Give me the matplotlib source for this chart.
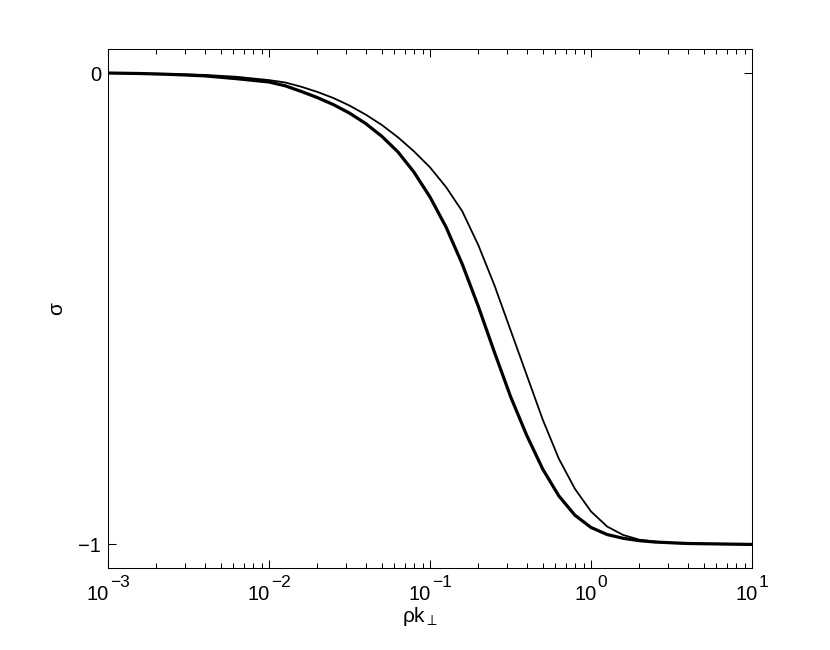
import numpy as np
import matplotlib
matplotlib.use("Agg")
import matplotlib.pyplot as plt
from matplotlib.ticker import LogLocator, FixedLocator, NullFormatter

plt.rcParams['font.family'] = ['Liberation Sans', 'DejaVu Sans']
plt.rcParams['mathtext.fontset'] = 'custom'
plt.rcParams['mathtext.rm'] = 'Liberation Sans'
plt.rcParams['mathtext.it'] = 'Liberation Sans'
plt.rcParams['mathtext.default'] = 'regular'

# log10(rho k_perp) sample positions and sigma values
thick_logk = [-3.0, -2.8, -2.6, -2.4, -2.2, -2.0, -1.9, -1.8, -1.7, -1.6, -1.5, -1.4,
              -1.3, -1.2, -1.1, -1.0, -0.9, -0.8, -0.7, -0.6, -0.5, -0.4, -0.3, -0.2,
              -0.1, 0.0, 0.1, 0.2, 0.3, 0.4, 0.6, 1.0]
thick_sigma = [0.000, -0.001, -0.003, -0.006, -0.012, -0.019, -0.027, -0.039, -0.052,
               -0.067, -0.085, -0.107, -0.134, -0.167, -0.210, -0.263, -0.327, -0.405,
               -0.495, -0.592, -0.686, -0.768, -0.840, -0.897, -0.938, -0.964, -0.979,
               -0.987, -0.992, -0.995, -0.998, -1.000]

thin_logk = [-3.0, -2.8, -2.6, -2.4, -2.2, -2.0, -1.9, -1.8, -1.7, -1.6, -1.5, -1.4,
             -1.3, -1.2, -1.1, -1.0, -0.9, -0.8, -0.7, -0.6, -0.5, -0.4, -0.3, -0.2,
             -0.1, 0.0, 0.1, 0.2, 0.3, 0.4, 0.5, 0.7, 1.0]
thin_sigma = [0.000, -0.001, -0.002, -0.004, -0.008, -0.015, -0.020, -0.029, -0.040,
              -0.053, -0.069, -0.088, -0.110, -0.136, -0.166, -0.200, -0.242, -0.293,
              -0.365, -0.450, -0.545, -0.640, -0.735, -0.818, -0.882, -0.930, -0.962,
              -0.980, -0.990, -0.994, -0.997, -0.999, -1.000]

xtick_exponents = [-3, -2, -1, 0, 1]
ytick_vals = [-1, 0]
ytick_labels = ['\u22121', '0']

fig = plt.figure(figsize=(8.3, 6.5), dpi=100)
ax = fig.add_axes([108/830, 82/650, 644/830, 519/650])

ax.plot(10**np.array(thick_logk), thick_sigma, color='black', lw=2.3,
        solid_joinstyle='round')
ax.plot(10**np.array(thin_logk), thin_sigma, color='black', lw=1.3,
        solid_joinstyle='round')

ax.set_xscale('log')
ax.set_xlim(1e-3, 1e1)
ax.set_ylim(-1.05, 0.051)
ax.xaxis.set_major_locator(FixedLocator([10.0**e for e in xtick_exponents]))
ax.xaxis.set_minor_locator(LogLocator(base=10, subs=np.arange(2, 10), numticks=20))
ax.xaxis.set_major_formatter(NullFormatter())
ax.xaxis.set_minor_formatter(NullFormatter())
ax.yaxis.set_major_locator(FixedLocator(ytick_vals))
ax.set_yticklabels(ytick_labels)

ax.tick_params(which='both', direction='in', top=True, right=True, labelsize=14.5, width=0.75)
ax.tick_params(which='major', length=6)
ax.tick_params(axis='y', which='major', pad=5)
ax.tick_params(which='minor', length=3.5)
for s in ax.spines.values():
    s.set_linewidth(0.75)

# MATLAB-style "10^n" tick labels with large superscripts
base_fs, exp_fs = 14.5, 12.5
digit_w, minus_w = 0.556, 0.584
trans = ax.get_xaxis_transform()
for e in xtick_exponents:
    exp_txt = ('\u2212' if e < 0 else '') + str(abs(e))
    w_base = 2 * digit_w * base_fs
    w_exp = (len(str(abs(e))) * digit_w + (minus_w if e < 0 else 0)) * exp_fs
    left = -(w_base + w_exp + 0.5) / 2
    ax.annotate('10', xy=(10.0**e, 0), xycoords=trans, xytext=(left, -23),
                textcoords='offset points', ha='left', va='baseline',
                fontsize=base_fs, annotation_clip=False)
    ax.annotate(exp_txt, xy=(10.0**e, 0), xycoords=trans,
                xytext=(left + w_base + 0.5, -13.5), textcoords='offset points',
                ha='left', va='baseline', fontsize=exp_fs, annotation_clip=False)

ax.annotate(r'ρk$_{\perp}$', xy=(0.485, 0), xycoords='axes fraction', xytext=(0, -39),
            textcoords='offset points', ha='center', va='baseline', fontsize=15,
            annotation_clip=False)
ax.set_ylabel('σ', fontsize=15, labelpad=9)

fig.savefig('out.png', dpi=100)
